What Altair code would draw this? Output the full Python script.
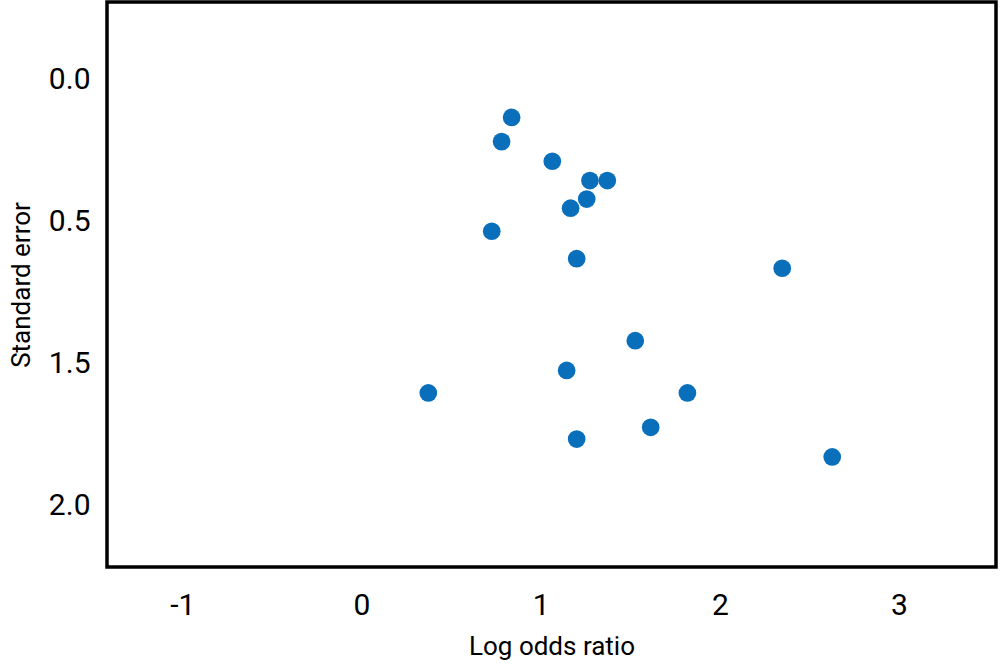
import altair as alt
import pandas as pd

# Values (y in the units printed on the axis)
log_odds = [0.838, 0.782, 1.065, 1.275, 1.372, 1.257, 1.167, 0.727, 1.201,
            2.348, 1.528, 1.145, 0.373, 1.819, 1.614, 1.201, 2.627]
std_err = [0.135, 0.220, 0.289, 0.357, 0.357, 0.422, 0.454, 0.570, 0.763,
           0.830, 1.339, 1.524, 1.603, 1.603, 1.724, 1.765, 1.828]

x_ticks = [-1, 0, 1, 2, 3]
y_ticks = [0.0, 0.5, 1.5, 2.0]

df = pd.DataFrame({"lor": log_odds, "se": std_err})

FONT = "Roboto, Liberation Sans, sans-serif"

W, H = 889, 565

chart = alt.Chart(df).mark_circle(size=314, opacity=1, color="#0a6fbb").encode(
    x=alt.X("lor:Q",
            scale=alt.Scale(domain=[-1.42, 3.541], nice=False, zero=False),
            axis=alt.Axis(title="Log odds ratio", values=x_ticks,
                          labelExpr="replace(datum.label, '\u2212', '-')",
                          grid=False, ticks=False, domain=False,
                          labelFont=FONT, labelFontSize=30, labelColor="#000",
                          labelPadding=23,
                          titleFont=FONT, titleFontSize=26, titleFontWeight="normal",
                          titleColor="#000", titlePadding=13)),
    y=alt.Y("se:Q",
            scale=alt.Scale(domain=[-0.2706, 0.0, 0.5, 1.5, 2.0, 2.2147],
                            range=[0, 77, 219.3, 361.6, 503.9, 565],
                            nice=False, zero=False),
            axis=alt.Axis(title="Standard error", values=y_ticks, format=".1f",
                          grid=False, ticks=False, domain=False,
                          labelFont=FONT, labelFontSize=30, labelColor="#000",
                          labelPadding=17,
                          titleFont=FONT, titleFontSize=26, titleFontWeight="normal",
                          titleColor="#000", titlePadding=14)),
).properties(
    width=W, height=H,
    background="white",
    padding={"left": 107, "top": 2, "right": 4, "bottom": 99},
    autosize=alt.AutoSizeParams(type="none"),
).configure_view(
    stroke="#000", strokeWidth=3.5, fill="white"
)

chart.save("out.html", embed_options={"renderer": "svg", "actions": False})
